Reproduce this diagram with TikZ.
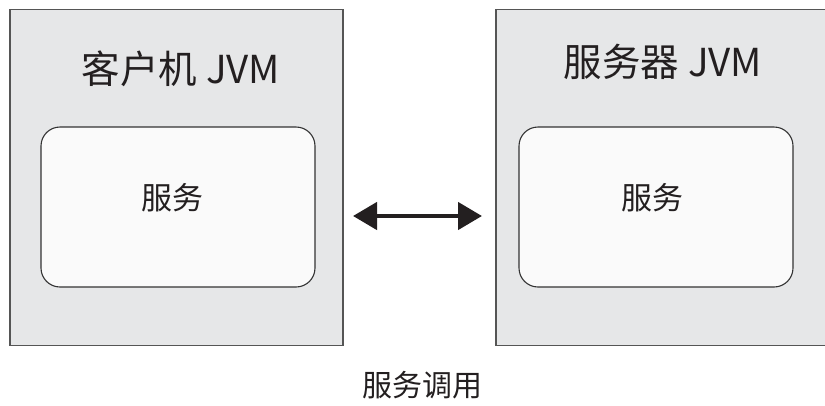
\documentclass[tikz,border=0pt]{standalone}
\usepackage{fontspec}
\newfontfamily\cjk{Noto Sans CJK SC}
\usetikzlibrary{arrows.meta}
\definecolor{outerfill}{HTML}{E6E7E8}
\definecolor{outerline}{HTML}{555555}
\definecolor{innerfill}{HTML}{FAFAFA}
\definecolor{innerline}{HTML}{333333}
\definecolor{txt}{HTML}{231F20}
\tikzset{
  jvmbox/.style={draw=outerline, fill=outerfill, line width=1.5pt},
  svcbox/.style={draw=innerline, fill=innerfill, line width=1.1pt, rounded corners=19pt},
  lbl/.style={text=txt, inner sep=0pt, font=\cjk},
  biarrow/.style={draw=txt, line width=4.5pt, {Triangle[length=24pt,width=27pt]}-{Triangle[length=24pt,width=27pt]}}
}
\begin{document}
\begin{tikzpicture}[x=1pt,y=-1pt]
\useasboundingbox (0,0) rectangle (825,405);
\fill[white] (0,0) rectangle (825,405);
\begin{scope}
\clip (0,0) rectangle (825,405);
\draw[jvmbox] (10,9.5) rectangle (343,345.5) coordinate (lbr);
\draw[jvmbox] (496,9.5) rectangle (830,345.5);
\end{scope}
\node[svcbox, minimum width=274pt, minimum height=160pt] (lsvc) at (178,207) {};
\node[svcbox, minimum width=274pt, minimum height=160pt] (rsvc) at (656,207) {};
\node[lbl, font=\cjk\fontsize{38.5}{44}\selectfont] (ltitle) at (181,69) {客户机 JVM};
\node[lbl, font=\cjk\fontsize{38.5}{44}\selectfont] (rtitle) at (663,62) {服务器 JVM};
\node[lbl, font=\cjk\fontsize{31}{36}\selectfont] (ls) at (172,198) {服务};
\node[lbl, font=\cjk\fontsize{31}{36}\selectfont] (rs) at (652,198) {服务};
\node[lbl, font=\cjk\fontsize{30}{36}\selectfont] (call) at (422,385) {服务调用};
\coordinate (aL) at (353,216);
\coordinate (aR) at (482,216);
\draw[biarrow] (aL) -- (aR);
\end{tikzpicture}
\end{document}
